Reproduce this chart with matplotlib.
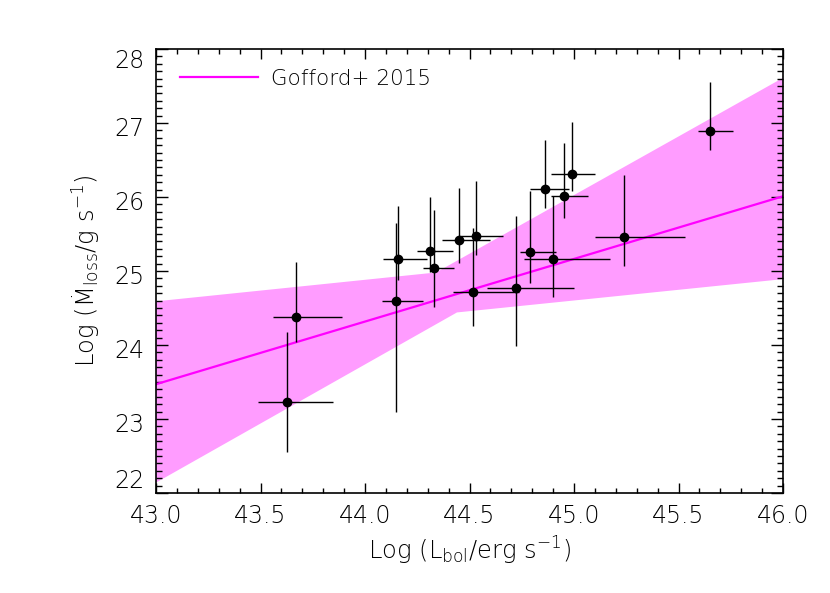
import matplotlib
matplotlib.use("Agg")
import matplotlib.pyplot as plt
import matplotlib.transforms as mtransforms
import numpy as np
from matplotlib.ticker import MultipleLocator, FormatStrFormatter

# ---- data ----
log_lbol     = [43.668, 43.627, 44.148, 44.159, 44.311, 44.329, 44.450, 44.530, 44.518,
                44.721, 44.789, 44.861, 44.900, 44.951, 44.990, 45.241, 45.652]
log_lbol_lo  = [43.558, 43.489, 44.080, 44.088, 44.250, 44.279, 44.370, 44.456, 44.420,
                44.582, 44.742, 44.789, 44.761, 44.890, 44.890, 45.100, 45.592]
log_lbol_hi  = [43.889, 43.848, 44.279, 44.299, 44.419, 44.427, 44.598, 44.659, 44.738,
                45.000, 44.912, 44.978, 45.172, 45.068, 45.100, 45.531, 45.762]
log_mdot     = [24.378, 23.226, 24.591, 25.166, 25.270, 25.045, 25.415, 25.469, 24.720,
                24.766, 25.257, 26.112, 25.158, 26.014, 26.307, 25.453, 26.896]
log_mdot_lo  = [24.045, 22.558, 23.099, 24.872, 24.993, 24.518, 25.104, 25.216, 24.261,
                23.991, 24.842, 25.855, 24.645, 25.712, 26.085, 25.072, 26.635]
log_mdot_hi  = [25.126, 24.180, 25.645, 25.878, 25.996, 25.828, 26.128, 26.220, 25.577,
                25.743, 26.081, 26.770, 26.014, 26.734, 27.018, 26.297, 27.558]

# Gofford+ 2015 relation and its uncertainty band
fit_x = [43.0, 46.0]
fit_y = [23.47, 26.01]
band_upper_x = [43.0, 44.34, 46.0]
band_upper_y = [24.59, 24.98, 27.61]
band_lower_x = [43.0, 44.44, 46.0]
band_lower_y = [22.14, 24.44, 24.89]

legend_label = "Gofford+ 2015"
x_ticks = [43.0, 43.5, 44.0, 44.5, 45.0, 45.5, 46.0]
y_ticks = [22, 23, 24, 25, 26, 27, 28]

# ---- style ----
plt.rcParams["font.family"] = ["DejaVu Sans"]
plt.rcParams["font.weight"] = "light"
plt.rcParams["axes.labelweight"] = "light"
plt.rcParams["mathtext.fontset"] = "custom"
plt.rcParams["mathtext.rm"] = "DejaVu Sans:light"
plt.rcParams["mathtext.it"] = "DejaVu Sans:italic:light"
plt.rcParams["mathtext.bf"] = "DejaVu Sans:bold"

W, H = 830, 593
fig = plt.figure(figsize=(W / 100, H / 100), dpi=100)
ax = fig.add_axes([156 / W, 100 / H, (783 - 156) / W, (493 - 49) / H])

band_col = "#ff9cff"
line_col = "#ff00ff"

# band polygon: upper edge left->right, lower edge right->left
poly_x = list(band_upper_x) + list(band_lower_x[::-1])
poly_y = list(band_upper_y) + list(band_lower_y[::-1])
ax.fill(poly_x, poly_y, color=band_col, lw=0, zorder=1)

ax.plot(fit_x, fit_y, color=line_col, lw=1.6, zorder=2, label=legend_label)

x = np.array(log_lbol)
y = np.array(log_mdot)
xerr = [x - np.array(log_lbol_lo), np.array(log_lbol_hi) - x]
yerr = [y - np.array(log_mdot_lo), np.array(log_mdot_hi) - y]
ax.errorbar(x, y, xerr=xerr, yerr=yerr, fmt="o", color="black", ms=6,
            elinewidth=1.0, capsize=0, zorder=3)

ax.set_xlim(43.0, 46.0)
ax.set_ylim(22, 28)
ax.set_xticks(x_ticks)
ax.set_yticks(y_ticks)
ax.xaxis.set_major_formatter(FormatStrFormatter("%.1f"))
ax.xaxis.set_minor_locator(MultipleLocator(0.1))
ax.yaxis.set_minor_locator(MultipleLocator(0.1))

for s in ax.spines.values():
    s.set_linewidth(1.2)

ax.tick_params(axis="both", which="both", direction="in", top=True, right=True,
               width=1.0, labelsize=17, colors="black")
ax.tick_params(axis="x", which="major", length=7.5, pad=8)
ax.tick_params(axis="x", which="minor", length=3.5)
ax.tick_params(axis="y", which="major", length=8.5, pad=8)
ax.tick_params(axis="y", which="minor", length=4.3)

# IDL-like y tick label placement
fig.canvas.draw()
for lab in ax.get_yticklabels():
    txt = lab.get_text()
    if txt == "28":
        lab.set_va("top")
    elif txt == "22":
        lab.set_va("bottom")
    else:
        lab.set_transform(lab.get_transform() +
                          mtransforms.ScaledTranslation(0, -3 / 100, fig.dpi_scale_trans))

ax.set_xlabel(r"Log (L$_{\rm bol}$/erg s$^{-1}$)", fontsize=17.5, fontweight="light")
ax.set_ylabel("Log (\u1e40$_{\\rm loss}$/g s$^{-1}$)", fontsize=17.5, fontweight="light")
ax.xaxis.set_label_coords(0.5, -0.095)
ax.xaxis.label.set_va("top")
ax.yaxis.set_label_coords(-0.084, 0.5)

leg = ax.legend(loc="upper left", frameon=False, fontsize=15.5, handlelength=3.6,
                handletextpad=0.6, borderaxespad=0.0, bbox_to_anchor=(0.025, 0.975))

fig.savefig("out.png", dpi=100)
